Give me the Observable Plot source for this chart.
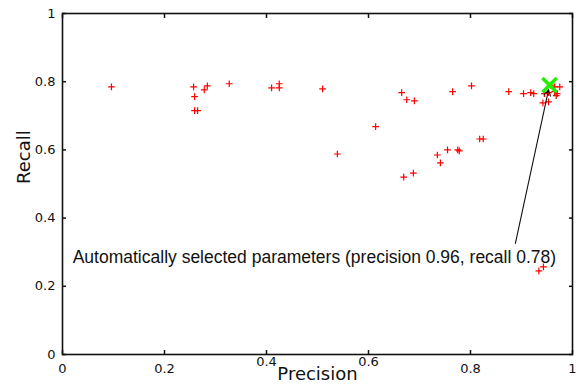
<!DOCTYPE html>
<html>
<head>
<meta charset="utf-8">
<script src="https://cdn.jsdelivr.net/npm/d3@7"></script>
<script src="https://cdn.jsdelivr.net/npm/@observablehq/plot@0.6"></script>
<style>
  html, body { margin: 0; padding: 0; background: #fff; }
  svg { display: block; }
</style>
</head>
<body>
<div id="chart"></div>
<script>
// Precision / recall of each parameter setting
const precision = [0.096, 0.257, 0.259, 0.259, 0.265, 0.278, 0.284, 0.327,
  0.41, 0.425, 0.425, 0.51, 0.665, 0.675, 0.69, 0.614, 0.539,
  0.669, 0.688, 0.735, 0.741, 0.755, 0.775, 0.778, 0.818, 0.825,
  0.765, 0.802, 0.875, 0.904, 0.918, 0.924,
  0.945, 0.942, 0.953, 0.957, 0.965, 0.975, 0.965, 0.97, 0.968, 0.953,
  0.934, 0.943];
const recall = [0.785, 0.785, 0.756, 0.715, 0.715, 0.776, 0.788, 0.794,
  0.782, 0.794, 0.782, 0.779, 0.768, 0.747, 0.744, 0.668, 0.588,
  0.52, 0.532, 0.585, 0.562, 0.6, 0.6, 0.597, 0.632, 0.632,
  0.771, 0.788, 0.771, 0.765, 0.768, 0.765,
  0.765, 0.738, 0.741, 0.79, 0.785, 0.785, 0.771, 0.765, 0.759, 0.768,
  0.245, 0.257];
const points = precision.map((p, i) => ({precision: p, recall: recall[i]}));

// Automatically selected parameter setting
const selected = [{precision: 0.955, recall: 0.79}];
const annotationText = "Automatically selected parameters (precision 0.96, recall 0.78)";
const annotationAt = [{precision: 0.02, recall: 0.285}];
const arrowFrom = {precision: 0.888, recall: 0.326};
const arrowTo = {precision: 0.953, recall: 0.776};

const ticks = [0, 0.2, 0.4, 0.6, 0.8, 1];
const lowTicks = [0, 0.2, 0.8, 1];
const highTicks = [0.4, 0.6];
const fmt = d => d === 0 ? "0" : d === 1 ? "1" : d3.format(".1f")(d);

const font = "DejaVu Sans, sans-serif";

const chart = Plot.plot({
  width: 579,
  height: 387,
  marginLeft: 62,
  marginRight: 7,
  marginTop: 13,
  marginBottom: 33,
  style: {fontFamily: font, background: "#fff", color: "#111"},
  x: {domain: [0, 1]},
  y: {domain: [0, 1]},
  marks: [
    // inward ticks on all sides
    Plot.axisX(ticks, {anchor: "bottom", tickSize: -4, tickFormat: () => "", label: null, strokeWidth: 1.5}),
    Plot.axisX(ticks, {anchor: "top", tickSize: -4, tickFormat: () => "", label: null, strokeWidth: 1.5}),
    Plot.axisY(ticks, {anchor: "left", tickSize: -4, tickFormat: () => "", label: null, strokeWidth: 1.5}),
    Plot.axisY(ticks, {anchor: "right", tickSize: -4, tickFormat: () => "", label: null, strokeWidth: 1.5}),
    // tick labels
    Plot.axisX(lowTicks, {anchor: "bottom", tickSize: 0, tickPadding: 9, tickFormat: fmt, label: null, fontSize: 13, fill: "#111"}),
    Plot.axisX(highTicks, {anchor: "bottom", tickSize: 0, tickPadding: 2, tickFormat: fmt, label: null, fontSize: 13, fill: "#111"}),
    Plot.axisY(ticks, {anchor: "left", tickSize: 0, tickPadding: 7, tickFormat: fmt, label: null, fontSize: 13, fill: "#111"}),
    Plot.frame({stroke: "#111", strokeWidth: 1.6}),
    Plot.text(["Precision"], {frameAnchor: "bottom", dy: 25, fontSize: 18, fill: "#111"}),
    Plot.text(["Recall"], {frameAnchor: "left", dx: -38, rotate: -90, fontSize: 18, fill: "#111"}),
    Plot.dot(points, {x: "precision", y: "recall", symbol: "plus", r: 2.3, stroke: "red", strokeWidth: 1.2}),
    Plot.dot(selected, {x: "precision", y: "recall", symbol: "times", r: 6.5, stroke: "#22ee00", strokeWidth: 3.5}),
    Plot.arrow([{}], {x1: arrowFrom.precision, y1: arrowFrom.recall, x2: arrowTo.precision, y2: arrowTo.recall,
      stroke: "#111", strokeWidth: 1.1, headLength: 9, bend: 0}),
    Plot.text(annotationAt, {x: "precision", y: "recall", text: () => annotationText, textAnchor: "start",
      fontFamily: "Liberation Sans Narrow, Liberation Sans, sans-serif", fontSize: 17.5, fill: "#111"})
  ]
});
document.getElementById("chart").append(chart);
</script>
</body>
</html>
